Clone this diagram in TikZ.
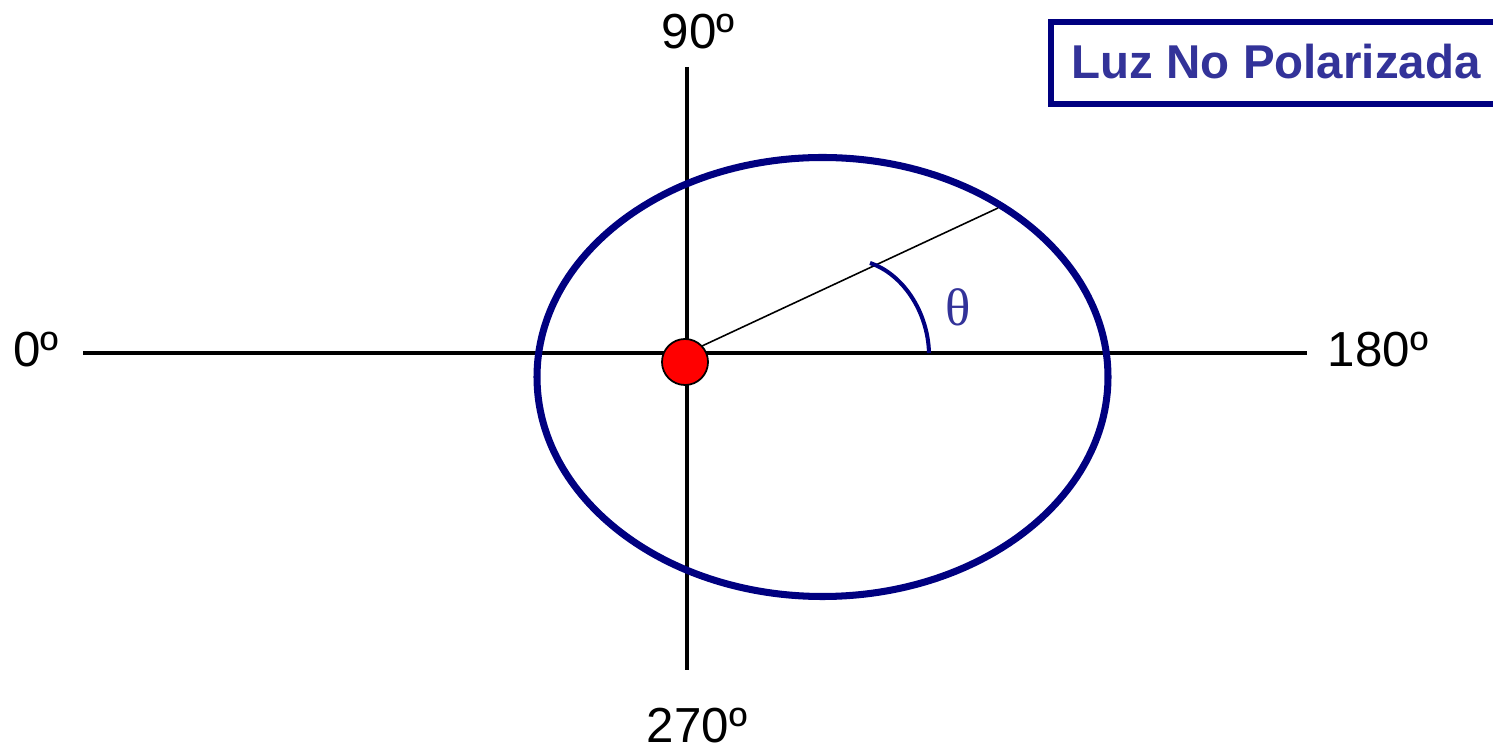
\documentclass[tikz,border=0pt]{standalone}
\usepackage{fontspec}
\setmainfont{Liberation Sans}
\newfontfamily\serifgr{Liberation Serif}
\definecolor{navy}{RGB}{0,0,128}
\definecolor{titleblue}{RGB}{51,51,153}
\begin{document}
\begin{tikzpicture}[x=0.01cm,y=-0.01cm,
  axis/.style={line width=0.95pt,black},
  lbl/.style={font=\fontsize{14}{16}\selectfont,inner sep=0pt},
]
\useasboundingbox (0,0) rectangle (1493,749);
% axes
\coordinate (xl) at (83,353);
\coordinate (xr) at (1307,353);
\coordinate (yt) at (687,67);
\coordinate (yb) at (687,670);
\coordinate (o) at (687,353);
\draw[axis] (xl) -- (xr);
\draw[axis] (yt) -- (yb);
% ellipse
\draw[navy,line width=2pt] (822.5,377) ellipse [x radius=285.5, y radius=219.5];
% ray
\coordinate (rend) at (998,208);
\draw[line width=0.45pt] (o) -- (rend);
% angle arc
\coordinate (a1) at (870,263);
\coordinate (a2) at (929,353);
\draw[navy,line width=1.15pt] (a1) .. controls (903,274) and (928,312) .. (a2);
\node[text=titleblue,inner sep=0pt,font=\serifgr\fontsize{15}{17}\selectfont] (th) at (958,307) {θ};
% red dot
\node[circle,fill=red,draw=black,line width=0.5pt,minimum size=0.46cm,inner sep=0pt] (dot) at (685,362) {};
% labels
\node[lbl] (l0) at (36,350) {0º};
\node[lbl] (l180) at (1378,350) {180º};
\node[lbl] (l90) at (698,32) {90º};
\node[lbl] (l270) at (697,726) {270º};
% title
\draw[navy,line width=1.56pt] (1051,22) rectangle (1520,104);
\node[text=titleblue,font=\bfseries\fontsize{13.5}{16}\selectfont,inner sep=0pt,anchor=west] (title) at (1071,62) {Luz No Polarizada};
\end{tikzpicture}
\end{document}
